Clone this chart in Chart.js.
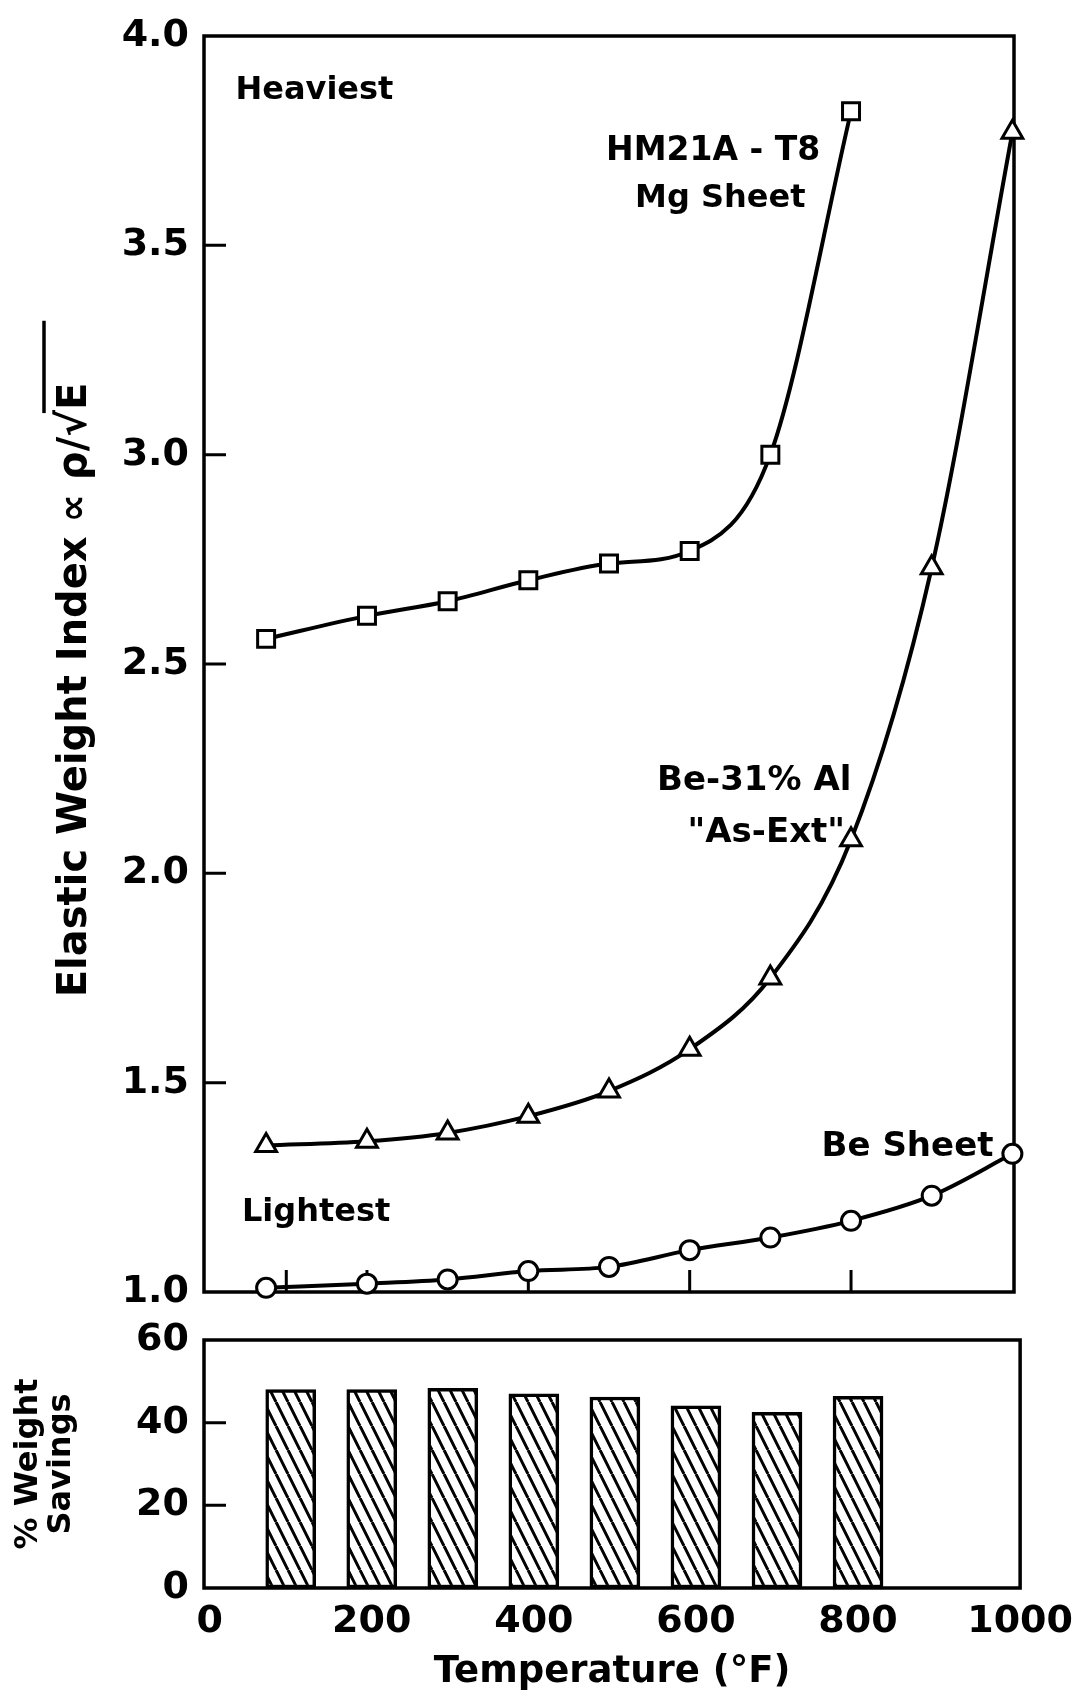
<!DOCTYPE html>
<html lang="en">
<head>
<meta charset="UTF-8">
<title>Elastic weight index vs temperature</title>
<script src="https://cdn.jsdelivr.net/npm/chart.js@4"></script>
<style>
  html, body { margin: 0; padding: 0; background: #fff; }
  body { width: 1074px; height: 1695px; position: relative; overflow: hidden; }
  canvas { position: absolute; left: 0; }
  #index { top: 0; }
  #savings { top: 1306px; }
</style>
</head>
<body>
<canvas id="index" width="1074" height="1330"></canvas>
<canvas id="savings" width="1088" height="389"></canvas>
<script>
// temperatures (°F)
const TEMPS_MG = [75, 200, 300, 400, 500, 600, 700, 800];
const TEMPS_BE = [75, 200, 300, 400, 500, 600, 700, 800, 900, 1000];

// elastic weight index (∝ ρ/√E)
const MG_SHEET = [2.56, 2.615, 2.65, 2.70, 2.74, 2.77, 3.00, 3.82];
const BE_AL = [1.35, 1.36, 1.38, 1.42, 1.48, 1.58, 1.75, 2.08, 2.73, 3.77];
const BE_SHEET = [1.01, 1.02, 1.03, 1.05, 1.06, 1.10, 1.13, 1.17, 1.23, 1.33];

// % weight savings
const BAR_TEMPS = [100, 200, 300, 400, 500, 600, 700, 800];
const SAVINGS = [48, 48, 48.3, 47, 46.2, 44.1, 42.5, 46.4];

// tick labels
const TEMP_TICKS = [0, 200, 400, 600, 800, 1000];
const INDEX_TICKS = [1.0, 1.5, 2.0, 2.5, 3.0, 3.5, 4.0];
const SAVINGS_TICKS = [0, 20, 40, 60];

const Y_TITLE = 'Elastic Weight Index \u221D \u03C1/\u221AE';
const FONT = '"DejaVu Sans", sans-serif';

Chart.defaults.font.family = FONT;
Chart.defaults.color = '#000';

const fixTicks = (vals) => (s) => { s.ticks = vals.map((v) => ({ value: v })); };

// box round the plot + short inward ticks
const framePlugin = {
  id: 'frame',
  beforeDatasetsDraw(chart, args, opts) {
    const { ctx, chartArea: a, scales } = chart;
    ctx.save();
    ctx.strokeStyle = '#000';
    ctx.lineWidth = 3.5;
    ctx.strokeRect(a.left, a.top, a.right - a.left, a.bottom - a.top);
    ctx.lineWidth = 3;
    ctx.beginPath();
    (opts.left || []).forEach((v) => {
      const y = scales.y.getPixelForValue(v);
      ctx.moveTo(a.left, y);
      ctx.lineTo(a.left + opts.len, y);
    });
    (opts.bottom || []).forEach((v) => {
      const x = scales.x.getPixelForValue(v);
      ctx.moveTo(x, a.bottom);
      ctx.lineTo(x, a.bottom - opts.len);
    });
    ctx.stroke();
    ctx.restore();
  }
};

// curve labels, placed in data units
const notesPlugin = {
  id: 'notes',
  afterDatasetsDraw(chart, args, opts) {
    const { ctx, scales } = chart;
    ctx.save();
    ctx.fillStyle = '#000';
    ctx.textBaseline = 'middle';
    opts.items.forEach((n) => {
      ctx.font = `bold ${n.size}px ${FONT}`;
      ctx.textAlign = n.align || 'center';
      ctx.fillText(n.text, scales.x.getPixelForValue(n.x), scales.y.getPixelForValue(n.y));
    });
    ctx.restore();
  }
};

// rotated y title, with the bar over the root
const yTitlePlugin = {
  id: 'ytitle',
  afterDraw(chart) {
    const { ctx, chartArea: a } = chart;
    ctx.save();
    ctx.translate(a.left - 133, (a.top + a.bottom) / 2 + 26);
    ctx.rotate(-Math.PI / 2);
    ctx.font = `bold 40px ${FONT}`;
    ctx.fillStyle = '#000';
    ctx.textAlign = 'left';
    ctx.textBaseline = 'alphabetic';
    const w = ctx.measureText(Y_TITLE).width;
    const base = 14.5;
    ctx.fillText(Y_TITLE, -w / 2, base);
    const start = ctx.measureText(Y_TITLE.slice(0, -1)).width;
    ctx.strokeStyle = '#000';
    ctx.lineWidth = 3.5;
    ctx.beginPath();
    ctx.moveTo(-w / 2 + start - 3, -27);
    ctx.lineTo(w / 2 + 62, -27);
    ctx.stroke();
    ctx.restore();
  }
};

function hatch() {
  const c = document.createElement('canvas');
  c.width = 12;
  c.height = 24;
  const g = c.getContext('2d');
  g.fillStyle = '#fff';
  g.fillRect(0, 0, 12, 24);
  g.strokeStyle = '#000';
  g.lineWidth = 3;
  g.beginPath();
  [-12, 0, 12].forEach((dx) => { g.moveTo(dx, 0); g.lineTo(dx + 12, 24); });
  g.stroke();
  return g.createPattern(c, 'repeat');
}

const series = (label, xs, ys, style, r) => ({
  label,
  data: xs.map((x, i) => ({ x, y: ys[i] })),
  borderColor: '#000',
  borderWidth: 4,
  backgroundColor: '#fff',
  pointStyle: style,
  pointRadius: r,
  pointBorderWidth: 3,
  pointBackgroundColor: '#fff',
  pointBorderColor: '#000',
  cubicInterpolationMode: 'monotone',
  clip: false
});

const tickFont = { size: 38, weight: 'bold', lineHeight: 1 };

new Chart(document.getElementById('index'), {
  type: 'line',
  data: {
    datasets: [
      series('HM21A-T8 Mg Sheet', TEMPS_MG, MG_SHEET, 'rect', 12),
      series('Be-31% Al "As-Ext"', TEMPS_BE, BE_AL, 'triangle', 12),
      series('Be Sheet', TEMPS_BE, BE_SHEET, 'circle', 9.5)
    ]
  },
  options: {
    responsive: false,
    animation: false,
    layout: { padding: { left: 0, right: 60, top: 36, bottom: 38 } },
    plugins: {
      legend: { display: false },
      tooltip: { enabled: false },
      frame: { left: [1.5, 2.0, 2.5, 3.0, 3.5], bottom: [100, 200, 400, 600, 800], len: 22 },
      notes: {
        items: [
          { text: 'Heaviest', x: 37, y: 3.87, size: 32, align: 'left' },
          { text: 'HM21A - T8', x: 629, y: 3.725, size: 33 },
          { text: 'Mg Sheet', x: 638, y: 3.612, size: 32 },
          { text: 'Be-31% Al', x: 680, y: 2.22, size: 34 },
          { text: '"As-Ext"', x: 695, y: 2.096, size: 34 },
          { text: 'Lightest', x: 137, y: 1.19, size: 32 },
          { text: 'Be Sheet', x: 870, y: 1.347, size: 34 }
        ]
      }
    },
    scales: {
      x: { type: 'linear', min: -2, max: 1002, display: false },
      y: {
        min: 1,
        max: 4,
        afterBuildTicks: fixTicks(INDEX_TICKS),
        afterFit: (s) => { s.width = 204; },
        grid: { display: false, drawTicks: false },
        border: { display: false },
        ticks: { padding: 15, font: tickFont, callback: (v) => Number(v).toFixed(1) }
      }
    }
  },
  plugins: [framePlugin, notesPlugin, yTitlePlugin]
});

new Chart(document.getElementById('savings'), {
  type: 'bar',
  data: {
    datasets: [{
      label: '% Weight Savings',
      data: BAR_TEMPS.map((x, i) => ({ x, y: SAVINGS[i] })),
      backgroundColor: hatch(),
      borderColor: '#000',
      borderWidth: 3.5,
      borderSkipped: false,
      barThickness: 50
    }]
  },
  options: {
    responsive: false,
    animation: false,
    layout: { padding: { left: 0, right: 0, top: 34, bottom: 0 } },
    plugins: {
      legend: { display: false },
      tooltip: { enabled: false },
      frame: { left: [20, 40], bottom: [], len: 22 }
    },
    scales: {
      x: {
        type: 'linear',
        min: -7,
        max: 1000,
        offset: false,
        afterBuildTicks: fixTicks(TEMP_TICKS),
        afterFit: (s) => { s.height = 107; },
        grid: { display: false, drawTicks: false },
        border: { display: false },
        ticks: { padding: 15, maxRotation: 0, autoSkip: false, font: tickFont, callback: (v) => String(v) },
        title: {
          display: true,
          text: 'Temperature (\u00B0F)',
          font: { size: 37, weight: 'bold', lineHeight: 1.2 },
          padding: 0
        }
      },
      y: {
        min: 0,
        max: 60,
        afterBuildTicks: fixTicks(SAVINGS_TICKS),
        afterFit: (s) => { s.width = 204; },
        grid: { display: false, drawTicks: false },
        border: { display: false },
        ticks: { padding: 15, font: tickFont },
        title: {
          display: true,
          text: ['% Weight', 'Savings'],
          font: { size: 32, weight: 'bold', lineHeight: 1.03 },
          padding: { top: 12, bottom: 0 }
        }
      }
    }
  },
  plugins: [framePlugin]
});
</script>
</body>
</html>
